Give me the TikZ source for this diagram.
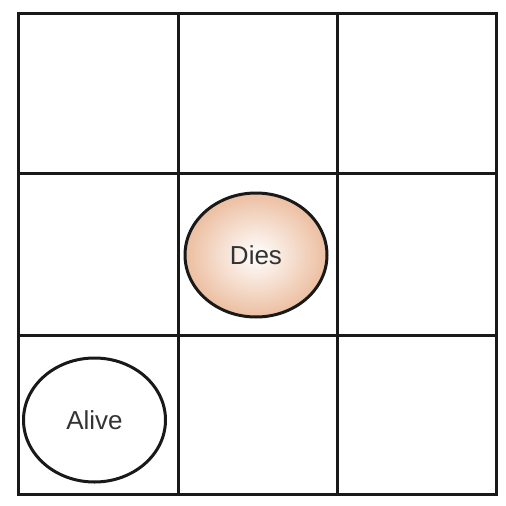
\documentclass[tikz,border=0pt]{standalone}
\usepackage{fontspec}
\setmainfont{Liberation Sans}
\usetikzlibrary{shapes.geometric}
\begin{document}
\begin{tikzpicture}[x=1pt,y=-1pt,
  gridline/.style={line width=3pt,draw=black!90},
  cell/.style={ellipse,draw=black!90,line width=3pt,minimum width=142pt,minimum height=124pt,inner sep=0pt,text=black!80,font=\fontsize{26}{30}\selectfont},
]
\useasboundingbox (0,0) rectangle (506,506);
\fill[white] (0,0) rectangle (506,506);
\draw[gridline] (18,13) rectangle (496,494);
\draw[gridline] (178,13) -- (178,494);
\draw[gridline] (337,13) -- (337,494);
\draw[gridline] (18,173) -- (496,173);
\draw[gridline] (18,335) -- (496,335);
\definecolor{peach}{RGB}{236,190,160}
\node[cell,inner color=white,outer color=peach] (dies) at (256,255) {Dies};
\node[cell,fill=white] (alive) at (94.5,420) {Alive};
\end{tikzpicture}
\end{document}
